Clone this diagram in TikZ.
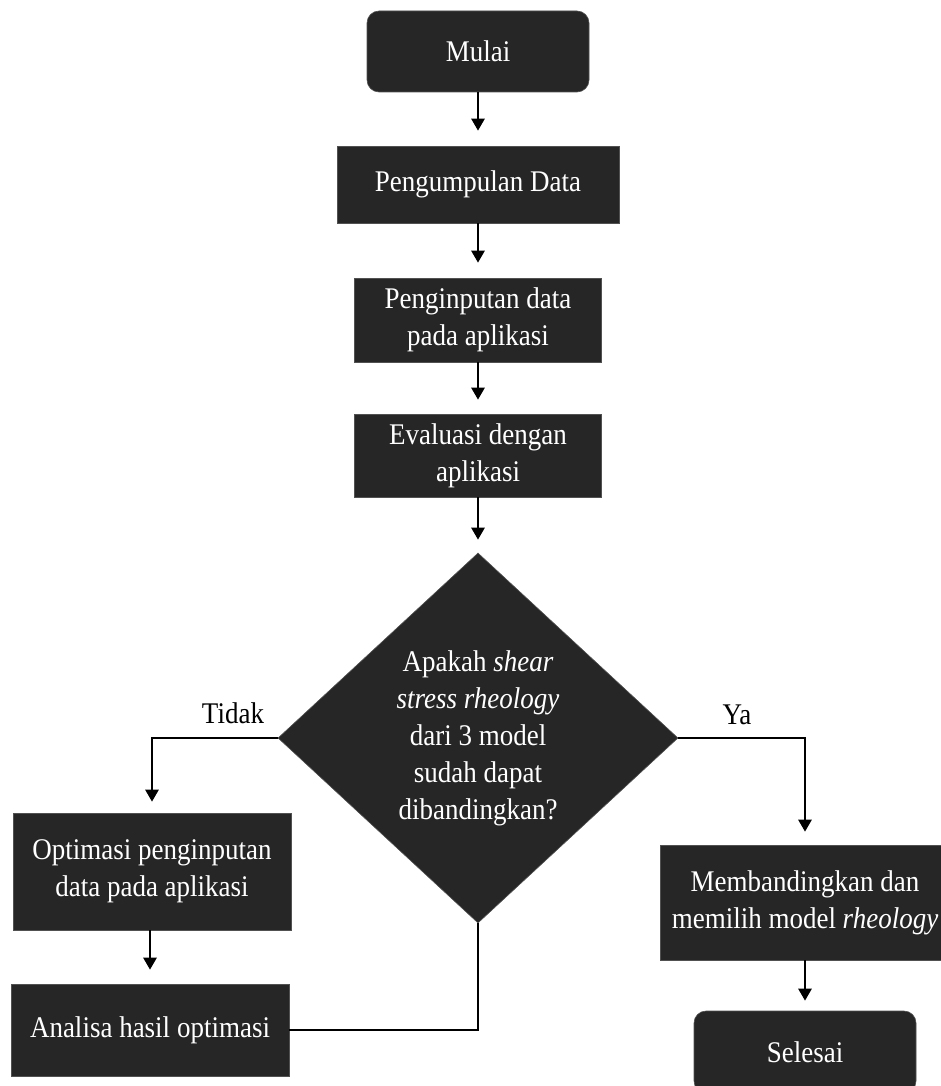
\documentclass[tikz,border=0pt]{standalone}
\usepackage{fontspec}
\setmainfont{Liberation Serif}[FakeStretch=0.9]
\usetikzlibrary{shapes.geometric,arrows.meta}
\definecolor{boxfill}{HTML}{262626}
\tikzset{
  base/.style={fill=boxfill, draw=boxfill!80!white, line width=0.6pt, text=white, inner sep=0pt, align=center,
    font=\fontsize{30}{37}\selectfont},
  terminal/.style={base, rounded corners=12pt},
  procbox/.style={base},
  decision/.style={base, diamond, minimum width=400pt, minimum height=370pt, inner sep=-10pt},
  flow/.style={line width=2.6pt, -{Triangle[width=13pt,length=12pt]}},
  plain/.style={line width=2.6pt},
  lbl/.style={font=\fontsize{30}{37}\selectfont, text=black, inner sep=0pt}
}
\begin{document}
\begin{tikzpicture}[x=1pt,y=-1pt]
\useasboundingbox (0,0) rectangle (941,1086);
\clip (0,0) rectangle (941,1086);
\node[terminal, minimum width=222pt, minimum height=81pt] (mulai) at (478,51.5) {Mulai};
\node[procbox, minimum width=282pt, minimum height=77pt] (kumpul) at (478,184.5) {Pengumpulan Data};
\node[procbox, minimum width=247pt, minimum height=84pt] (input) at (478,320) {Penginputan data\\pada aplikasi};
\node[procbox, minimum width=247pt, minimum height=83pt] (eval) at (478,455.5) {Evaluasi dengan\\aplikasi};
\node[decision] (dec) at (478,738) {Apakah \textit{shear}\\\textit{stress rheology}\\dari 3 model\\sudah dapat\\dibandingkan?};
\node[procbox, minimum width=278pt, minimum height=117pt] (opt) at (152,871.5) {Optimasi penginputan\\data pada aplikasi};
\node[procbox, minimum width=278pt, minimum height=92pt] (ana) at (150,1030) {Analisa hasil optimasi};
\node[procbox, minimum width=290pt, minimum height=115pt] (band) at (805,902.5) {Membandingkan dan\\memilih model \textit{rheology}};
\node[terminal, minimum width=222pt, minimum height=82pt] (selesai) at (805,1052) {Selesai};

\node[lbl] (tidak) at (233,713) {Tidak};
\node[lbl] (ya) at (737,715) {Ya};

\draw[flow, shorten >=15pt] (mulai.south) -- (kumpul.north);
\draw[flow, shorten >=15pt] (kumpul.south) -- (input.north);
\draw[flow, shorten >=14pt] (input.south) -- (eval.north);
\draw[flow, shorten >=13pt] (eval.south) -- (dec.north);
\draw[flow, shorten >=11pt] (dec.west) -| (opt.north);
\draw[flow, shorten >=13pt] (dec.east) -| (band.north);
\draw[flow, shorten >=14pt] (opt.south -| ana.north) -- (ana.north);
\draw[flow, shorten >=10pt] (band.south) -- (selesai.north);
\draw[plain] (ana.east) -| (dec.south);
\end{tikzpicture}
\end{document}
